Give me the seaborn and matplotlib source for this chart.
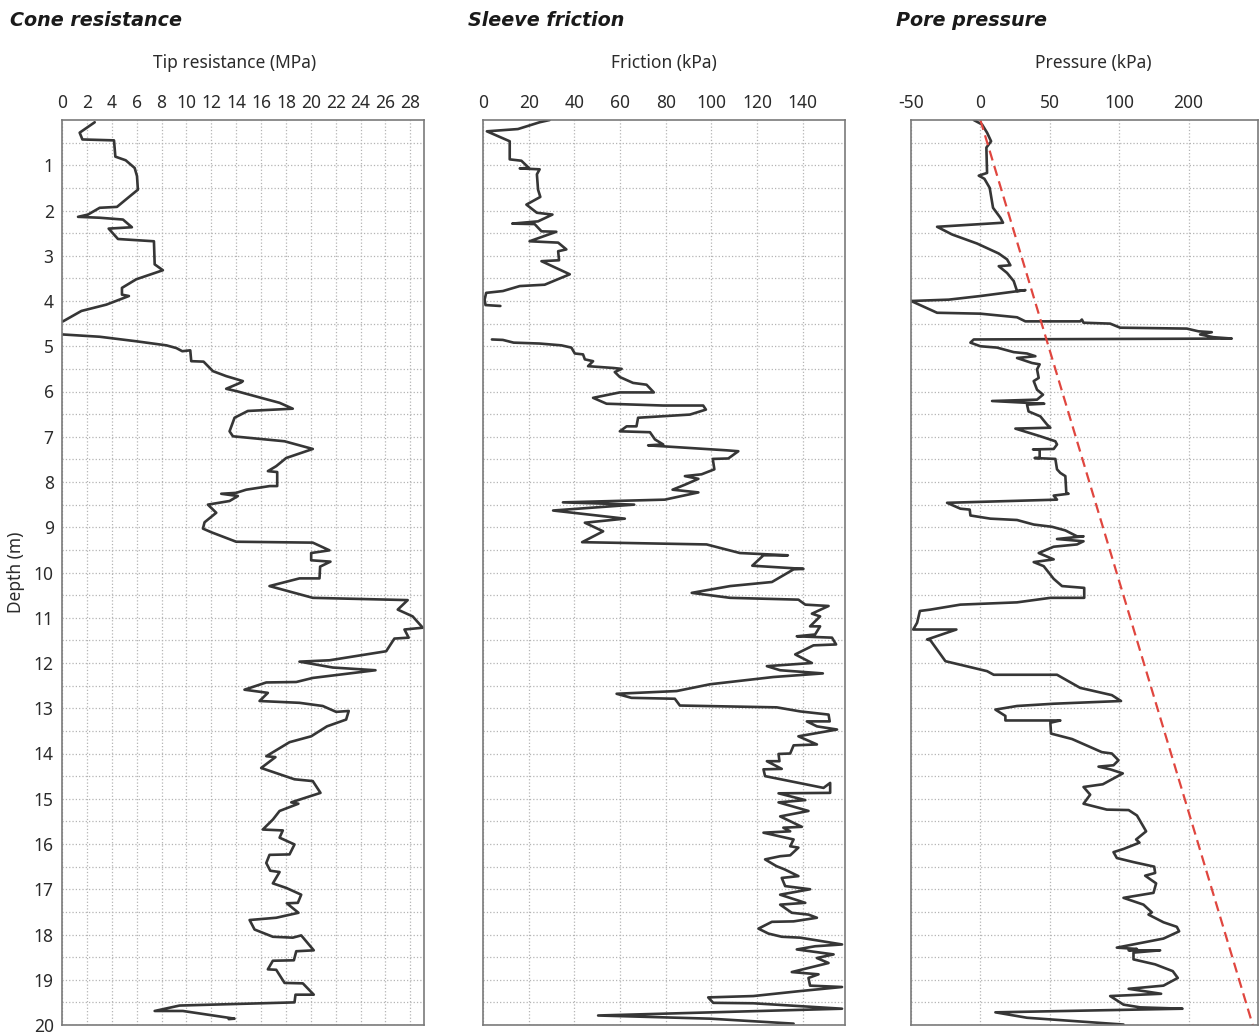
import numpy as np
import pandas as pd
import seaborn as sns
import matplotlib.pyplot as plt

# Cone resistance (MPa) vs depth (m); NaN marks a gap in the record
cone_depth = [0.05, 0.28, 0.43, 0.45, 0.81, 0.89, 1.06, 1.24, 1.54, 1.72,
              1.92, 1.94, 2.09, 2.14, 2.16, 2.20, 2.37, 2.40, 2.63, 2.68,
              3.19, 3.32, 3.52, 3.71, 3.86, 3.89, 4.08, 4.22, 4.45, np.nan,
              4.74, 4.79, 4.89, 4.98, 5.04, 5.11, 5.09, 5.33, 5.34, 5.55,
              5.66, 5.77, 5.80, 5.94, 5.99, 6.15, 6.25, 6.38, 6.43, 6.58,
              6.88, 6.99, 7.10, 7.27, 7.47, 7.65, 7.76, 7.78, 8.09, 8.09,
              8.17, 8.24, 8.26, 8.31, 8.42, 8.50, 8.68, 8.89, 9.03, 9.11,
              9.32, 9.34, 9.51, 9.57, 9.73, 9.76, 9.87, 10.13, 10.13, 10.30,
              10.56, 10.61, 10.82, 10.97, 11.22, 11.26, 11.44, 11.46, 11.74, 11.94,
              11.97, 12.10, 12.16, 12.33, 12.42, 12.43, 12.59, 12.66, 12.84, 12.88,
              12.95, 13.08, 13.06, 13.25, 13.40, 13.62, 13.75, 14.06, 14.08, 14.32,
              14.57, 14.61, 14.87, 15.02, 15.08, 15.11, 15.27, 15.46, 15.68, 15.70,
              15.86, 16.01, 16.23, 16.24, 16.42, 16.59, 16.62, 16.87, 16.97, 17.12,
              17.30, 17.31, 17.52, 17.63, 17.68, 17.89, 18.05, 18.07, 18.02, 18.35,
              18.37, 18.57, 18.58, 18.77, 18.78, 19.07, 19.08, 19.33, 19.33, 19.50,
              19.57, 19.69, 19.69, 19.86, 19.87]
cone_q = [2.63, 1.42, 1.64, 4.18, 4.29, 5.12, 5.84, 6.03, 6.10, 5.30,
          4.42, 3.03, 2.09, 1.29, 3.03, 4.90, 5.62, 3.75, 4.50, 7.39,
          7.45, 8.11, 5.97, 4.82, 4.82, 5.38, 3.57, 1.56, 0.08, np.nan,
          0.08, 3.03, 5.97, 8.39, 9.19, 9.67, 10.31, 10.39, 11.38, 12.13,
          13.20, 14.54, 14.40, 13.20, 14.00, 16.14, 17.49, 18.55, 14.94, 13.87,
          13.47, 13.74, 17.89, 20.16, 18.02, 17.22, 16.55, 17.30, 17.30, 16.70,
          14.81, 14.00, 12.80, 14.14, 13.47, 11.73, 12.40, 11.46, 11.33, 12.00,
          14.00, 20.16, 21.50, 20.03, 20.03, 21.58, 20.75, 20.70, 19.09, 16.68,
          20.16, 27.79, 26.99, 28.19, 29.00, 27.53, 27.87, 26.72, 26.06, 21.50,
          19.09, 21.77, 25.20, 20.16, 18.83, 16.42, 14.67, 16.55, 15.88, 19.09,
          20.96, 22.04, 23.05, 22.84, 21.30, 20.03, 18.29, 16.42, 17.16, 16.01,
          18.69, 20.16, 20.78, 19.09, 18.43, 19.00, 17.49, 16.95, 16.14, 17.75,
          17.49, 18.69, 18.29, 16.68, 16.42, 16.74, 17.49, 16.95, 18.02, 19.23,
          18.96, 18.07, 19.01, 17.22, 15.08, 15.48, 16.95, 18.55, 19.23, 20.24,
          18.83, 18.64, 16.95, 16.55, 17.22, 17.89, 19.36, 20.24, 18.77, 18.69,
          9.45, 7.45, 9.72, 13.87, 13.40]

# Sleeve friction (kPa) vs depth (m)
fric_depth = [0.00, 0.05, 0.20, 0.25, 0.47, 0.87, 0.90, 1.06, 1.07, 1.09,
              1.20, 1.54, 1.70, 1.87, 2.05, 2.09, 2.24, 2.29, 2.30, 2.46,
              2.47, 2.68, 2.71, 2.86, 2.90, 3.10, 3.12, 3.41, 3.64, 3.67,
              3.78, 3.82, 3.97, 4.09, 4.11, np.nan,
              4.85, 4.86, 4.92, 4.94, 4.98, 5.03, 5.16, 5.18, 5.29, 5.33,
              5.44, 5.48, 5.50, 5.57, 5.68, 5.81, 5.85, 6.02, 6.02, 6.14,
              6.27, 6.31, 6.31, 6.40, 6.51, 6.58, 6.77, 6.77, 6.88, 6.90,
              7.06, 7.17, 7.19, 7.30, 7.32, 7.48, 7.49, 7.72, 7.83, 7.87,
              7.93, 8.06, 8.17, 8.23, 8.39, 8.45, 8.50, 8.63, 8.81, 8.90,
              9.09, 9.33, 9.38, 9.57, 9.62, 9.62, 9.85, 9.92, 9.93, 10.21,
              10.30, 10.45, 10.56, 10.60, 10.71, 10.74, 10.91, 10.97, 11.19, 11.19,
              11.37, 11.41, 11.44, 11.59, 11.61, 11.81, 12.00, 12.07, 12.16, 12.23,
              12.31, 12.47, 12.62, 12.68, 12.77, 12.79, 12.94, 12.98, 13.07, 13.14,
              13.29, 13.29, 13.40, 13.47, 13.62, 13.80, 13.82, 14.00, 14.01, 14.17,
              14.17, 14.34, 14.35, 14.50, 14.76, 14.65, 14.87, 14.88, 15.03, 15.08,
              15.27, 15.39, 15.62, 15.64, 15.72, 15.75, 15.90, 16.05, 16.08, 16.25,
              16.27, 16.34, 16.49, 16.56, 16.71, 16.75, 16.93, 17.00, 17.12, 17.30,
              17.34, 17.52, 17.56, 17.63, 17.71, 17.72, 17.87, 17.98, 18.05, 18.07,
              18.22, 18.26, 18.33, 18.44, 18.52, 18.63, 18.74, 18.83, 18.88, 18.96,
              19.13, 19.16, 19.25, 19.36, 19.39, 19.51, 19.52, 19.64, 19.79, 19.86,
              19.97]
fric_f = [29.2, 24.8, 15.3, 1.7, 11.7, 11.7, 16.8, 20.1, 16.1, 24.8,
          23.6, 24.1, 25.1, 19.0, 23.6, 30.4, 24.1, 12.8, 22.6, 25.6,
          32.1, 20.4, 32.9, 36.5, 32.9, 33.3, 25.6, 38.0, 27.0, 16.1,
          8.7, 1.4, 0.7, 1.1, 7.6, np.nan,
          3.9, 8.7, 13.4, 24.8, 34.3, 38.7, 40.2, 43.8, 44.6, 48.2,
          46.0, 57.0, 60.7, 57.7, 59.9, 65.7, 71.6, 74.8, 59.9, 48.2,
          54.1, 78.9, 96.4, 97.6, 90.6, 67.9, 67.2, 62.9, 59.9, 73.1,
          75.3, 78.9, 72.3, 106.7, 111.8, 107.4, 100.6, 101.3, 95.7, 88.4,
          94.3, 88.4, 83.0, 94.3, 79.6, 35.0, 66.2, 30.7, 62.1, 44.6,
          52.6, 43.4, 97.9, 112.5, 133.5, 122.8, 117.9, 140.3, 136.0, 126.5,
          108.2, 91.4, 108.2, 138.1, 141.1, 151.3, 144.0, 147.6, 143.2, 147.6,
          145.4, 137.4, 152.8, 154.6, 144.7, 136.7, 144.0, 124.3, 130.1, 148.8,
          127.1, 99.4, 84.8, 58.5, 65.0, 84.0, 86.2, 128.6, 138.9, 151.3,
          151.8, 141.8, 146.2, 155.0, 138.1, 146.2, 136.0, 134.5, 129.4, 129.8,
          124.3, 130.8, 122.8, 123.5, 149.1, 152.0, 152.0, 129.4, 141.1, 129.4,
          142.5, 130.1, 139.6, 131.5, 134.5, 122.8, 136.0, 134.5, 138.1, 134.5,
          130.1, 123.5, 128.5, 132.0, 138.1, 130.8, 132.3, 143.2, 130.1, 141.1,
          130.1, 135.2, 142.5, 146.2, 136.0, 126.5, 120.6, 125.0, 130.8, 138.9,
          157.2, 145.4, 137.4, 153.5, 146.2, 151.3, 142.5, 135.2, 146.9, 142.5,
          143.2, 157.2, 138.9, 118.4, 98.6, 100.8, 118.4, 157.2, 50.4, 99.4,
          136.0]

# Pore pressure (kPa) vs depth (m)
pore_depth = [0.00, 0.10, 0.28, 0.47, 0.61, 1.17, 1.23, 1.30, 1.50, 1.94,
              2.16, 2.27, 2.36, 2.53, 2.73, 2.95, 3.08, 3.21, 3.23, 3.38,
              3.56, 3.78, 3.76, 3.89, 3.97, 4.00, 4.26, 4.28, 4.36, 4.45,
              4.45, 4.41, 4.48, 4.50, 4.59, 4.61, 4.67, 4.69, 4.74, 4.80,
              4.83, 4.85, 4.92, 5.00, 5.03, 5.13, 5.16, 5.22, 5.26, 5.37,
              5.40, 5.51, 5.70, 5.77, 5.96, 6.07, 6.18, 6.21, 6.27, 6.29,
              6.44, 6.55, 6.73, 6.80, 6.82, 6.99, 7.10, 7.17, 7.27, 7.28,
              7.29, 7.47, 7.47, 7.49, 7.72, 7.80, 7.87, 8.24, 8.26, 8.30,
              8.39, 8.46, 8.59, 8.61, 8.74, 8.81, 8.84, 8.94, 8.99, 9.07,
              9.20, 9.20, 9.26, 9.31, 9.38, 9.43, 9.57, 9.71, 9.77, 9.86,
              10.14, 10.30, 10.34, 10.56, 10.56, 10.66, 10.71, 10.82, 10.85, 11.11,
              11.26, 11.26, 11.48, 11.50, 11.96, 12.18, 12.26, 12.26, 12.55, 12.71,
              12.84, 12.90, 12.95, 13.03, 13.17, 13.27, 13.27, 13.32, 13.56, 13.68,
              13.97, 14.00, 14.15, 14.26, 14.29, 14.35, 14.44, 14.68, 14.74, 14.91,
              15.11, 15.24, 15.25, 15.37, 15.72, 15.90, 15.97, 16.11, 16.18, 16.31,
              16.40, 16.50, 16.64, 16.70, 16.87, 17.08, 17.19, 17.34, 17.51, 17.56,
              17.73, 17.83, 17.93, 18.09, 18.29, 18.32, 18.35, 18.35, 18.40, 18.55,
              18.66, 18.81, 18.96, 19.13, 19.20, 19.31, 19.36, 19.55, 19.61, 19.64,
              19.72, 19.84, 19.99]
pore_u = [-4.8, 1.2, 4.8, 7.7, 4.3, 4.8, -1.2, 2.9, 6.7, 9.1,
          14.4, 16.3, -31.2, -20.4, -2.4, 13.2, 19.2, 21.6, 13.2, 19.2,
          24.0, 26.4, 32.4, 0.0, -22.8, -49.9, -31.2, 0.0, 26.4, 32.4,
          71.9, 73.1, 74.3, 93.5, 100.7, 148.7, 157.1, 166.7, 158.3, 167.9,
          181.1, -4.8, -7.2, 0.0, 12.0, 24.0, 33.6, 39.6, 26.4, 37.2,
          42.7, 40.8, 42.0, 38.4, 40.8, 45.1, 40.8, 8.4, 46.0, 33.6,
          34.7, 43.2, 48.0, 50.4, 25.2, 43.2, 54.0, 55.2, 52.8, 37.9,
          42.7, 42.7, 39.1, 54.0, 55.2, 57.6, 61.2, 61.9, 63.5, 52.8,
          55.2, -24.0, -14.4, -7.7, -7.2, 7.2, 26.4, 38.4, 51.6, 61.2,
          69.6, 74.3, 55.2, 74.3, 69.6, 52.8, 42.0, 52.8, 38.4, 45.6,
          52.8, 58.8, 74.8, 74.8, 50.4, 26.4, -14.4, -36.0, -43.6, -45.6,
          -48.4, -17.3, -38.4, -36.0, -25.2, 4.8, 9.6, 55.2, 71.9, 94.7,
          101.3, 52.8, 26.4, 10.8, 18.0, 18.0, 57.6, 50.4, 50.9, 66.0,
          87.5, 94.7, 99.5, 95.9, 85.1, 93.5, 102.6, 88.2, 74.3, 79.1,
          74.3, 91.1, 106.8, 112.8, 119.4, 112.2, 114.6, 103.1, 95.9, 98.3,
          110.3, 125.2, 125.9, 118.7, 126.6, 124.7, 103.1, 117.5, 123.5, 121.1,
          131.9, 141.5, 143.2, 131.9, 98.3, 112.8, 106.8, 129.5, 110.3, 110.3,
          125.9, 138.6, 142.2, 131.9, 106.8, 130.2, 93.5, 103.1, 115.1, 145.6,
          10.8, 33.6, 103.1]

# Hydrostatic reference line
hydro_depth = [0.0, 20.0]
hydro_u = [0.0, 196.2]

# Axis ticks
cone_ticks = list(range(0, 29, 2))
fric_ticks = list(range(0, 141, 20))
pore_ticks = [-50, 0, 50, 100, 150]
pore_tick_labels = ['-50', '0', '50', '100', '200']

LINE = '#363636'
RED = '#e0463f'
GRID = '#b4b4b4'
TEXT = '#2b2b2b'


def to_frame(depth, value):
    df = pd.DataFrame({'depth': depth, 'value': value})
    df['seg'] = df['value'].isna().cumsum()
    return df.dropna()


sns.set_theme(style='white')
plt.rcParams['font.family'] = ['Noto Sans', 'DejaVu Sans']

W, H = 1259, 1036
fig = plt.figure(figsize=(W / 100, H / 100), dpi=100)

bottom = (H - 1025) / H
height = (1025 - 120) / H
ax1 = fig.add_axes([62 / W, bottom, 362 / W, height])
ax2 = fig.add_axes([483 / W, bottom, 362 / W, height])
ax3 = fig.add_axes([911 / W, bottom, 347 / W, height])
axes = [ax1, ax2, ax3]

for ax, (d, v) in zip(axes, [(cone_depth, cone_q), (fric_depth, fric_f), (pore_depth, pore_u)]):
    sns.lineplot(data=to_frame(d, v), x='value', y='depth', units='seg',
                 estimator=None, sort=False, color=LINE, lw=1.9, ax=ax)

sns.lineplot(x=hydro_u, y=hydro_depth, color=RED, lw=1.6,
             linestyle=(0, (4.6, 2.6)), ax=ax3)

ax1.set_xlim(0, 29.1)
ax2.set_xlim(0, 158.5)
ax3.set_xlim(-50, 200)
ax1.set_xticks(cone_ticks)
ax2.set_xticks(fric_ticks)
ax3.set_xticks(pore_ticks)
ax3.set_xticklabels(pore_tick_labels)

xlabels = ['Tip resistance (MPa)', 'Friction (kPa)', 'Pressure (kPa)']
label_x = [0.478, 0.5, 0.524]
ydepth = np.arange(0.5, 20.01, 0.5)
for ax, lab, lx in zip(axes, xlabels, label_x):
    ax.set_ylim(20, 0)
    ax.xaxis.tick_top()
    ax.xaxis.set_label_position('top')
    ax.set_xlabel(lab, fontsize=12.5, color=TEXT)
    ax.xaxis.set_label_coords(lx, 1.057)
    ax.set_yticks(ydepth)
    ax.tick_params(length=0, labelsize=12.5, labelcolor=TEXT, pad=6)
    ax.grid(True, linestyle=':', color=GRID, lw=0.9)
    for s in ax.spines.values():
        s.set_color('#7a7a7a')
        s.set_linewidth(1.2)
    ax.set_ylabel('')

ax1.set_yticklabels([str(int(t)) if t == int(t) else '' for t in ydepth])
ax1.set_ylabel('Depth (m)', fontsize=12.5, color=TEXT, labelpad=6)
ax2.set_yticklabels([])
ax3.set_yticklabels([])

titles = [('Cone resistance', 10), ('Sleeve friction', 468), ('Pore pressure', 896)]
for text, x in titles:
    fig.text(x / W, 1 - 20 / H, text, fontsize=13.8, fontweight='bold',
             fontstyle='oblique', family='DejaVu Sans', va='center', ha='left',
             color='#1a1a1a')

fig.savefig('out.png', dpi=100)
